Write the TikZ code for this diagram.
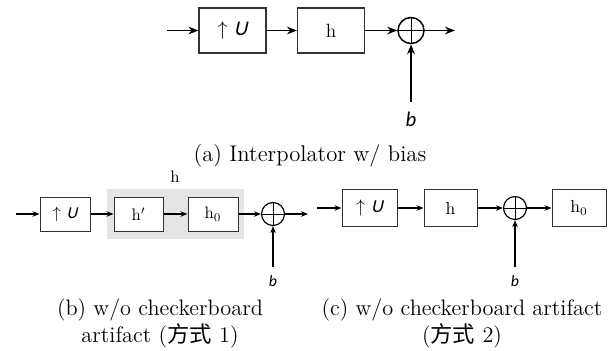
\documentclass[tikz,border=0pt]{standalone}
\usepackage{fontspec}
\newfontfamily\calib{Carlito}
\newfontfamily\calibsl[FakeSlant=0.22]{Carlito}
\newfontfamily\cjk{Noto Sans CJK SC}
\usetikzlibrary{arrows.meta}
\tikzset{
  topbox/.style={draw=black!80, line width=0.9pt, minimum width=40pt, minimum height=27pt, inner sep=0pt, font=\fontsize{11.5}{13}\selectfont},
  botbox/.style={draw=black!80, line width=0.6pt, inner sep=0pt, font=\fontsize{10}{12}\selectfont},
  toparr/.style={line width=0.9pt, -{Stealth[length=6pt,width=4.6pt]}},
  botarr/.style={line width=0.7pt, -{Stealth[length=4.2pt,width=3.3pt]}},
  sumnode/.style={circle, draw=black, inner sep=0pt, path picture={
      \draw[line width=0.6pt] (path picture bounding box.north) -- (path picture bounding box.south)
        (path picture bounding box.west) -- (path picture bounding box.east);}},
  blab/.style={inner sep=0pt, font=\calib\itshape},
  captext/.style={align=center, font=\fontsize{13.4}{16.2}\selectfont},
}
\begin{document}
\begin{tikzpicture}[x=0.6pt, y=-0.6pt]
\useasboundingbox (0,0) rectangle (612,350);
% ---------- (a)
\coordinate (ain) at (167,30.5);
\coordinate (aout) at (455,30.5);
\coordinate (abin) at (411,102);
\node[topbox] (aU) at (232.5,30.5) {$\uparrow$\ {\calibsl\fontsize{12.5}{13}\selectfont U}};
\node[topbox] (ah) at (331,30.5) {h};
\node[sumnode, line width=0.9pt, minimum size=15.6pt] (asum) at (411,30.5) {};
\node[blab, font=\calib\itshape\fontsize{12.5}{14}\selectfont] (ab) at (411,119) {b};
\draw[toparr] (ain) -- (aU);
\draw[toparr] (aU) -- (ah);
\draw[toparr] (ah) -- (asum);
\draw[toparr] (asum) -- (aout);
\draw[toparr] (abin) -- (asum);
\node[captext, font=\fontsize{13.6}{16.2}\selectfont] (capa) at (310,156) {(a) Interpolator w/ bias};
% ---------- (b)
\coordinate (bin) at (16,214);
\coordinate (bout) at (308,214);
\coordinate (bbin) at (273,267);
\node[fill=gray!20, minimum width=82.2pt, minimum height=30pt, inner sep=0pt] (bgray) at (175.5,214) {};
\node[font=\fontsize{10}{12}\selectfont] (bhl) at (175,177) {h};
\node[botbox, minimum width=30pt, minimum height=20.4pt] (bU) at (65,214) {$\uparrow$\ {\calibsl\fontsize{10}{11}\selectfont U}};
\node[botbox, fill=white, minimum width=29.4pt, minimum height=20.4pt] (bhp) at (138.5,214) {$\mathrm{h}'$};
\node[botbox, fill=white, minimum width=30pt, minimum height=20.4pt] (bh0) at (213,214) {$\mathrm{h}_0$};
\node[sumnode, line width=0.7pt, minimum size=13.8pt] (bsum) at (273,214) {};
\node[blab, font=\calib\itshape\fontsize{9.5}{11}\selectfont] (bb) at (273,281) {b};
\draw[botarr] (bin) -- (bU);
\draw[botarr] (bU) -- (bhp);
\draw[botarr] (bhp) -- (bh0);
\draw[botarr] (bh0) -- (bsum);
\draw[botarr] (bsum) -- (bout);
\draw[botarr] (bbin) -- (bsum);
\node[captext] (capb) at (160,323.5) {(b) w/o checkerboard\\artifact ({\cjk 方式} 1)};
% ---------- (c)
\coordinate (cin) at (317,208);
\coordinate (cbin) at (515,267);
\node[botbox, minimum width=33pt, minimum height=22.2pt, font=\fontsize{10.5}{12}\selectfont] (cU) at (369.5,208) {$\uparrow$\ {\calibsl\fontsize{11}{12}\selectfont U}};
\node[botbox, minimum width=31.8pt, minimum height=22.2pt, font=\fontsize{10.5}{12}\selectfont] (ch) at (450.5,208) {h};
\node[sumnode, line width=0.7pt, minimum size=13.8pt] (csum) at (515,208) {};
\node[botbox, minimum width=32.4pt, minimum height=22.2pt, font=\fontsize{10.5}{12}\selectfont] (ch0) at (579,208) {$\mathrm{h}_0$};
\node[blab, font=\calib\itshape\fontsize{9.5}{11}\selectfont] (cb) at (515,281) {b};
\draw[botarr] (cin) -- (cU);
\draw[botarr] (cU) -- (ch);
\draw[botarr] (ch) -- (csum);
\draw[botarr] (csum) -- (ch0);
\draw[botarr] (cbin) -- (csum);
\node[captext] (capc) at (462,323.5) {(c) w/o checkerboard artifact\\({\cjk 方式} 2)};
\end{tikzpicture}
\end{document}
